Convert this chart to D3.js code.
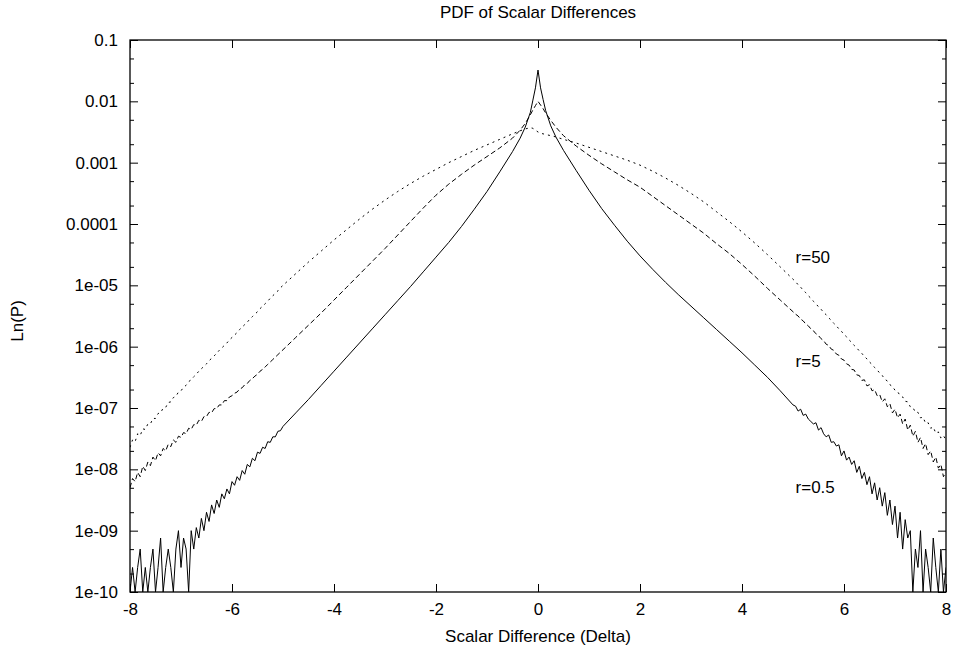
<!DOCTYPE html>
<html>
<head>
<meta charset="utf-8">
<script src="https://cdn.jsdelivr.net/npm/d3@7"></script>
<style>
  body { margin: 0; background: #fff; }
  svg text { font-family: "Liberation Sans", Arial, sans-serif; fill: #000; }
</style>
</head>
<body>
<svg id="chart" width="955" height="651"></svg>
<script>
// sampling points along the x axis (Scalar Difference)
var delta = [
  -8.00,-7.95,-7.90,-7.85,-7.80,-7.75,-7.70,-7.65,-7.60,-7.55,-7.50,-7.45,-7.40,-7.35,-7.30,-7.25,
  -7.20,-7.15,-7.10,-7.05,-7.00,-6.95,-6.90,-6.85,-6.80,-6.75,-6.70,-6.65,-6.60,-6.55,-6.50,-6.45,
  -6.40,-6.35,-6.30,-6.25,-6.20,-6.15,-6.10,-6.05,-6.00,-5.95,-5.90,-5.85,-5.80,-5.75,-5.70,-5.65,
  -5.60,-5.55,-5.50,-5.45,-5.40,-5.35,-5.30,-5.25,-5.20,-5.15,-5.10,-5.05,-5.00,
  -4.75,-4.5,-4.25,-4,-3.75,-3.5,-3.25,-3,-2.75,-2.5,-2.25,-2,-1.75,-1.5,-1.25,-1,-0.75,
  -0.5,-0.35,-0.25,-0.15,-0.1,-0.05,0,0.05,0.1,0.15,0.25,0.35,0.5,
  0.75,1,1.25,1.5,1.75,2,2.25,2.5,2.75,3,3.25,3.5,3.75,4,4.25,4.5,4.75,
  5.00,5.05,5.10,5.15,5.20,5.25,5.30,5.35,5.40,5.45,5.50,5.55,5.60,5.65,5.70,5.75,
  5.80,5.85,5.90,5.95,6.00,6.05,6.10,6.15,6.20,6.25,6.30,6.35,6.40,6.45,6.50,6.55,
  6.60,6.65,6.70,6.75,6.80,6.85,6.90,6.95,7.00,7.05,7.10,7.15,7.20,7.25,7.30,7.35,
  7.40,7.45,7.50,7.55,7.60,7.65,7.70,7.75,7.80,7.85,7.90,7.95,8.00
];

// log10 of P, null = empty bin (drawn at the bottom)
var logP_r05 = [
  null,-9.6,null,-9.6,-9.3,null,-9.6,null,-9.6,-9.3,null,-9.6,-9.12,null,-9.6,-9.3,
  -9.6,null,-9.3,-9.0,-9.6,-9.12,-9.3,null,-9.0,-9.3,-8.95,-9.12,-8.8,-9.0,-8.7,-8.85,
  -8.58,-8.72,-8.5,-8.62,-8.4,-8.48,-8.32,-8.4,-8.2,-8.26,-8.12,-8.18,-8.02,-8.08,-7.92,-7.96,
  -7.82,-7.86,-7.72,-7.74,-7.64,-7.66,-7.55,-7.56,-7.47,-7.47,-7.38,-7.37,-7.3,
  -7.08,-6.86,-6.63,-6.4,-6.17,-5.94,-5.71,-5.48,-5.25,-5.02,-4.78,-4.54,-4.3,-4.04,-3.76,-3.47,-3.15,
  -2.82,-2.6,-2.42,-2.18,-1.98,-1.78,-1.49,-1.78,-1.97,-2.15,-2.4,-2.58,-2.8,
  -3.13,-3.45,-3.75,-4.02,-4.28,-4.52,-4.74,-4.95,-5.15,-5.34,-5.53,-5.72,-5.91,-6.1,-6.3,-6.5,-6.72,
  -6.95,-6.97,-7.05,-7.02,-7.12,-7.1,-7.18,-7.22,-7.26,-7.24,-7.36,-7.32,-7.42,-7.47,-7.44,-7.56,
  -7.55,-7.62,-7.6,-7.78,-7.7,-7.85,-7.8,-7.92,-7.86,-8.05,-7.95,-8.15,-8.05,-8.25,-8.12,-8.4,
  -8.22,-8.5,-8.3,-8.6,-8.38,-8.75,-8.5,-8.9,-8.6,-9.12,-8.7,-9.3,-8.82,-9.12,-9.0,null,
  -9.3,-9.6,-9.0,null,-9.3,-9.6,null,-9.12,-9.6,null,-9.3,null,-9.6
];

var logP_r5 = [
  -8.3,-8.15,-8.2,-8.05,-8.12,-7.95,-8.02,-7.88,-7.94,-7.8,-7.86,-7.73,-7.78,-7.66,-7.7,-7.59,
  -7.63,-7.52,-7.56,-7.46,-7.48,-7.4,-7.42,-7.33,-7.35,-7.27,-7.28,-7.2,-7.22,-7.14,-7.14,-7.07,
  -7.08,-7.01,-7.01,-6.95,-6.95,-6.88,-6.88,-6.82,-6.8,-6.76,-6.74,-6.69,-6.67,-6.62,-6.6,-6.55,
  -6.52,-6.48,-6.45,-6.4,-6.37,-6.33,-6.29,-6.25,-6.21,-6.17,-6.13,-6.09,-6.05,
  -5.85,-5.65,-5.45,-5.24,-5.03,-4.82,-4.61,-4.4,-4.18,-3.96,-3.74,-3.53,-3.35,-3.19,-3.04,-2.9,-2.76,
  -2.6,-2.47,-2.36,-2.22,-2.14,-2.07,-2.0,-2.06,-2.12,-2.19,-2.31,-2.42,-2.56,
  -2.73,-2.88,-3.02,-3.15,-3.28,-3.4,-3.55,-3.7,-3.85,-4.0,-4.15,-4.32,-4.48,-4.66,-4.85,-5.05,-5.24,
  -5.43,-5.47,-5.5,-5.55,-5.58,-5.63,-5.66,-5.71,-5.74,-5.79,-5.82,-5.87,-5.9,-5.96,-5.98,-6.04,
  -6.06,-6.12,-6.14,-6.2,-6.22,-6.28,-6.3,-6.37,-6.38,-6.46,-6.47,-6.55,-6.54,-6.64,-6.62,-6.72,
  -6.7,-6.8,-6.78,-6.9,-6.85,-6.98,-6.93,-7.08,-7.02,-7.16,-7.1,-7.26,-7.18,-7.36,-7.28,-7.46,
  -7.38,-7.56,-7.48,-7.66,-7.58,-7.76,-7.7,-7.88,-7.8,-7.98,-7.92,-8.12,-8.05
];

var logP_r50 = [
  -7.64,-7.52,-7.55,-7.42,-7.45,-7.34,-7.35,-7.26,-7.26,-7.17,-7.17,-7.09,-7.08,-7.0,-6.99,-6.91,
  -6.9,-6.83,-6.81,-6.74,-6.72,-6.66,-6.63,-6.57,-6.54,-6.49,-6.45,-6.4,-6.36,-6.32,-6.28,-6.23,
  -6.19,-6.15,-6.11,-6.06,-6.02,-5.98,-5.94,-5.89,-5.85,-5.81,-5.77,-5.72,-5.68,-5.64,-5.6,-5.55,
  -5.51,-5.47,-5.43,-5.38,-5.34,-5.3,-5.26,-5.21,-5.17,-5.13,-5.09,-5.04,-5.0,
  -4.81,-4.62,-4.44,-4.26,-4.09,-3.92,-3.76,-3.61,-3.47,-3.34,-3.22,-3.11,-3.0,-2.9,-2.8,-2.71,-2.62,
  -2.53,-2.48,-2.45,-2.43,-2.44,-2.47,-2.5,-2.52,-2.53,-2.54,-2.56,-2.58,-2.62,
  -2.68,-2.75,-2.82,-2.89,-2.96,-3.04,-3.14,-3.25,-3.37,-3.5,-3.64,-3.8,-3.96,-4.13,-4.31,-4.5,-4.7,
  -4.9,-4.94,-4.99,-5.03,-5.08,-5.12,-5.17,-5.21,-5.26,-5.3,-5.35,-5.39,-5.44,-5.48,-5.53,-5.57,
  -5.62,-5.66,-5.71,-5.75,-5.8,-5.84,-5.89,-5.93,-5.98,-6.02,-6.07,-6.11,-6.16,-6.2,-6.25,-6.29,
  -6.34,-6.38,-6.43,-6.47,-6.53,-6.56,-6.62,-6.65,-6.71,-6.73,-6.8,-6.82,-6.89,-6.9,-6.98,-6.99,
  -7.07,-7.07,-7.16,-7.15,-7.25,-7.24,-7.33,-7.31,-7.41,-7.39,-7.49,-7.45,-7.52
];

var xTicks = [-8, -6, -4, -2, 0, 2, 4, 6, 8];
var yTicks = [1e-1, 1e-2, 1e-3, 1e-4, 1e-5, 1e-6, 1e-7, 1e-8, 1e-9, 1e-10];
var yTickLabels = ["0.1", "0.01", "0.001", "0.0001", "1e-05", "1e-06", "1e-07", "1e-08", "1e-09", "1e-10"];
var seriesNames = ["r=0.5", "r=5", "r=50"];

var svg = d3.select("#chart");
var pLeft = 130, pRight = 946, pTop = 40, pBottom = 592;

var x = d3.scaleLinear().domain([-8, 8]).range([pLeft, pRight]);
var y = d3.scaleLog().domain([1e-10, 1e-1]).range([pBottom, pTop]);

// minor ticks at 2x and 5x each decade
var yMinor = [];
yTicks.slice(1).forEach(function (d) { yMinor.push(d * 2, d * 5); });

function styleAxis(g) {
  g.select(".domain").remove();
  g.selectAll(".tick line").attr("stroke", "#000").attr("stroke-width", 1);
  g.selectAll(".tick text").style("font-size", "17px");
}

// y axis, left and mirrored on right, ticks pointing inwards
svg.append("g")
    .attr("transform", "translate(" + pLeft + ",0)")
    .call(d3.axisLeft(y).tickValues(yTicks).tickSize(-8).tickPadding(12)
          .tickFormat(function (d, i) { return yTickLabels[i]; }))
    .call(styleAxis);
svg.append("g")
    .attr("transform", "translate(" + pLeft + ",0)")
    .call(d3.axisLeft(y).tickValues(yMinor).tickSize(-4).tickFormat(""))
    .call(styleAxis);
svg.append("g")
    .attr("transform", "translate(" + pRight + ",0)")
    .call(d3.axisRight(y).tickValues(yTicks).tickSize(-8).tickFormat(""))
    .call(styleAxis);
svg.append("g")
    .attr("transform", "translate(" + pRight + ",0)")
    .call(d3.axisRight(y).tickValues(yMinor).tickSize(-4).tickFormat(""))
    .call(styleAxis);

// x axis, bottom and mirrored on top
svg.append("g")
    .attr("transform", "translate(0," + pBottom + ")")
    .call(d3.axisBottom(x).tickValues(xTicks).tickSize(-8).tickPadding(11)
          .tickFormat(function (d) { return String(d); }))
    .call(styleAxis);
svg.append("g")
    .attr("transform", "translate(0," + pTop + ")")
    .call(d3.axisTop(x).tickValues(xTicks).tickSize(-8).tickFormat(""))
    .call(styleAxis);

// plot frame
svg.append("rect")
    .attr("x", pLeft).attr("y", pTop)
    .attr("width", pRight - pLeft).attr("height", pBottom - pTop)
    .attr("fill", "none").attr("stroke", "#000").attr("stroke-width", 1.3);

svg.append("clipPath").attr("id", "plotClip")
  .append("rect")
    .attr("x", pLeft).attr("y", pTop)
    .attr("width", pRight - pLeft).attr("height", pBottom - pTop);

function toP(v) { return v === null ? 0 : Math.pow(10, v); }

var line = d3.line()
    .x(function (d) { return x(d[0]); })
    .y(function (d) { return y(Math.max(d[1], 1e-10)); });

var curves = [
  { vals: logP_r05, dash: null },
  { vals: logP_r5, dash: "5,3" },
  { vals: logP_r50, dash: "2,4" }
];

curves.forEach(function (c) {
  var pts = delta.map(function (d, i) { return [d, toP(c.vals[i])]; });
  svg.append("path")
      .datum(pts)
      .attr("clip-path", "url(#plotClip)")
      .attr("fill", "none")
      .attr("stroke", "#000")
      .attr("stroke-width", 1)
      .attr("stroke-dasharray", c.dash)
      .attr("d", line);
});

// curve labels
var labelPos = [[x(5.05), 493], [x(5.05), 367], [x(5.05), 263]];
seriesNames.forEach(function (n, i) {
  svg.append("text")
      .attr("x", labelPos[i][0]).attr("y", labelPos[i][1])
      .style("font-size", "17px")
      .text(n);
});

// titles
svg.append("text")
    .attr("x", (pLeft + pRight) / 2).attr("y", 18)
    .attr("text-anchor", "middle")
    .style("font-size", "17px")
    .text("PDF of Scalar Differences");

svg.append("text")
    .attr("x", (pLeft + pRight) / 2).attr("y", 642)
    .attr("text-anchor", "middle")
    .style("font-size", "17px")
    .text("Scalar Difference (Delta)");

svg.append("text")
    .attr("transform", "translate(23,321) rotate(-90)")
    .attr("text-anchor", "middle")
    .style("font-size", "17px")
    .text("Ln(P)");
</script>
</body>
</html>
